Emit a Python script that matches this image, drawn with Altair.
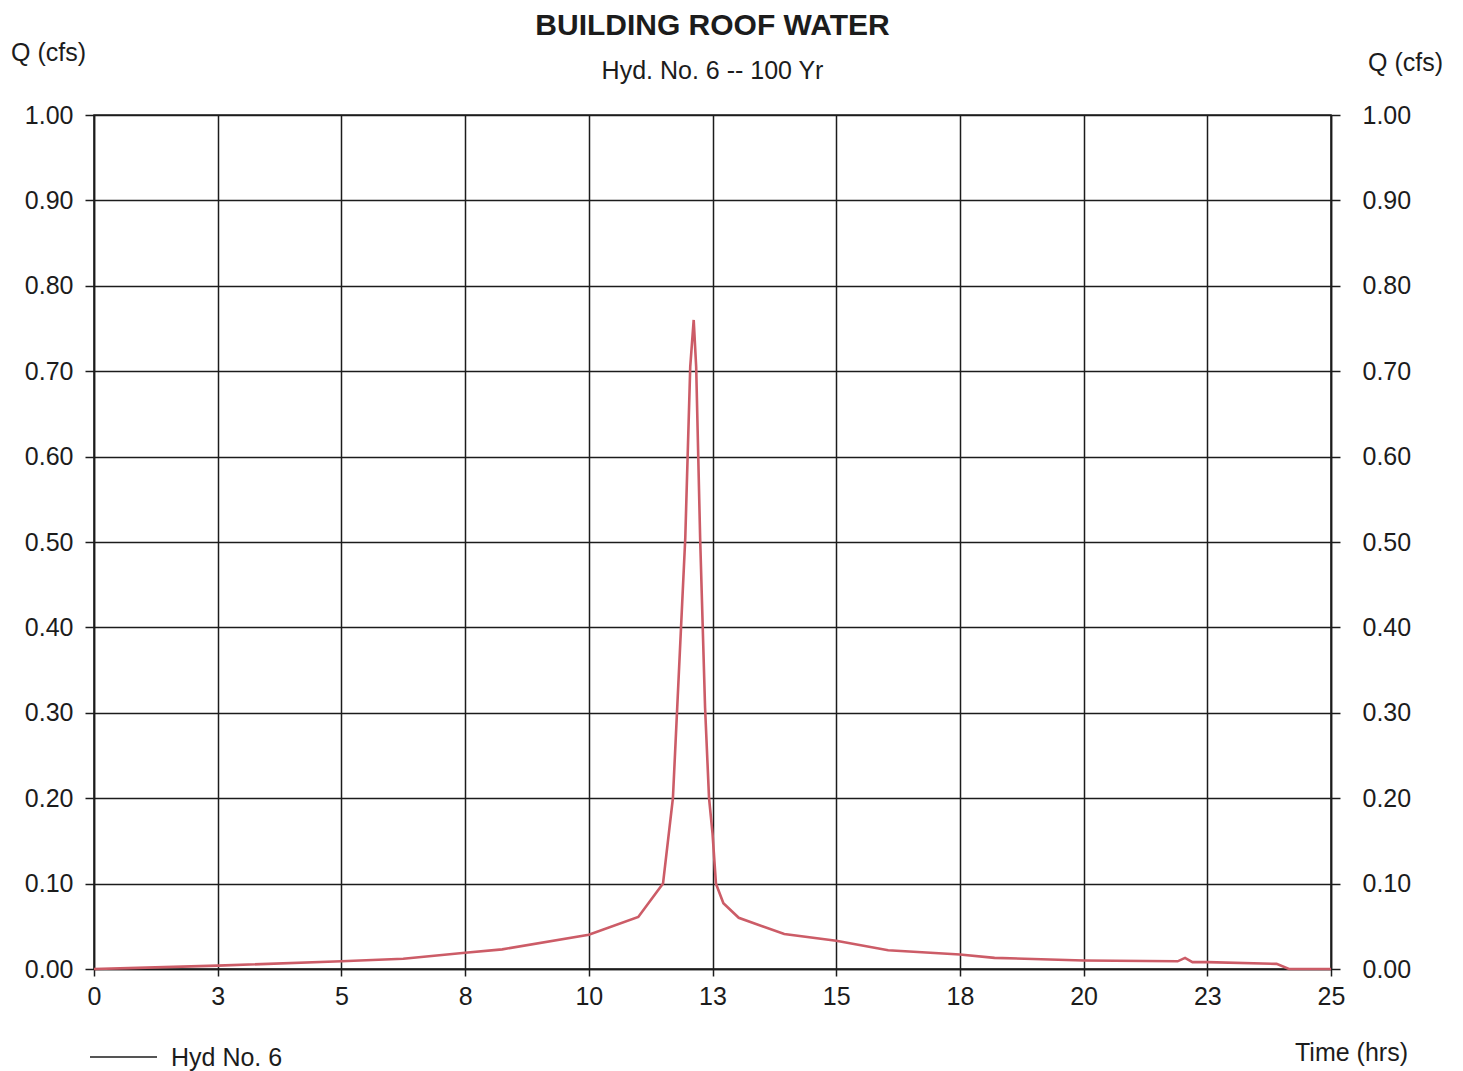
import altair as alt
import pandas as pd

time_hrs = [0.0, 0.7, 2.5, 5.0, 6.25, 7.5, 8.25, 10.0, 11.0, 11.5, 11.7, 11.95,
            12.05, 12.12, 12.17, 12.25, 12.35, 12.43, 12.5, 12.57, 12.72, 13.03,
            13.95, 15.0, 16.05, 17.5, 18.2, 20.0, 21.9, 22.05, 22.2, 22.5, 23.9,
            24.15, 25.0]
flow_cfs = [0.0, 0.001, 0.004, 0.009, 0.012, 0.019, 0.023, 0.040, 0.061, 0.100,
            0.200, 0.505, 0.705, 0.760, 0.705, 0.505, 0.306, 0.200, 0.159, 0.100,
            0.077, 0.060, 0.041, 0.033, 0.022, 0.017, 0.013, 0.010, 0.009, 0.013,
            0.008, 0.008, 0.006, 0.0, 0.0]
series_name = ["Hyd No. 6"]
x_ticks = [0, 2.5, 5, 7.5, 10, 12.5, 15, 17.5, 20, 22.5, 25]
y_ticks = [0.0, 0.1, 0.2, 0.3, 0.4, 0.5, 0.6, 0.7, 0.8, 0.9, 1.0]

df = pd.DataFrame({"t": time_hrs, "q": flow_cfs})
legend_df = pd.DataFrame({"label": series_name})

FONT = "Liberation Sans"
INK = "#1c1c1c"
W, H = 1237, 854

x_enc = alt.X(
    "t:Q",
    scale=alt.Scale(domain=[0, 25], nice=False),
    axis=alt.Axis(
        values=x_ticks, labelExpr="round(datum.value)", title="Time (hrs)",
        titleAngle=0, titleX=1257, titleY=91, titleAlign="center",
        titleBaseline="alphabetic", tickSize=7, labelPadding=8,
        labelFlush=False, grid=True,
    ),
)

base = alt.Chart(df)

line = base.mark_line(color="#cc5c67", strokeWidth=2.6).encode(
    x=x_enc,
    y=alt.Y(
        "q:Q",
        scale=alt.Scale(domain=[0, 1], nice=False),
        axis=alt.Axis(
            values=y_ticks, format=".2f", title="Q (cfs)", orient="left",
            titleAngle=0, titleX=-46, titleY=-55, titleAlign="center",
            titleBaseline="alphabetic", tickSize=9, labelPadding=12, grid=True,
            labelFlush=False,
        ),
    ),
)

right = base.mark_line(opacity=0).encode(
    x=x_enc,
    y=alt.Y(
        "q:Q",
        scale=alt.Scale(domain=[0, 1], nice=False),
        axis=alt.Axis(
            values=y_ticks, format=".2f", title="Q (cfs)", orient="right",
            titleAngle=0, titleX=74, titleY=-45, titleAlign="center",
            titleBaseline="alphabetic", tickSize=9, labelPadding=22, grid=False,
            labelFlush=False,
        ),
    ),
)

leg_rule = alt.Chart(legend_df).mark_rule(color="#555555", strokeWidth=2).encode(
    x=alt.value(-4), x2=alt.value(63), y=alt.value(942)
)
leg_text = alt.Chart(legend_df).mark_text(
    align="left", baseline="middle", font=FONT, fontSize=25, color=INK
).encode(x=alt.value(77), y=alt.value(943), text="label:N")

chart = (
    alt.layer(line, right, leg_rule, leg_text)
    .resolve_axis(y="independent")
    .properties(
        width=W,
        height=H,
        autosize=alt.AutoSizeParams(type="none"),
        padding={"left": 94, "top": 115, "right": 132, "bottom": 102},
        background="white",
        title=alt.TitleParams(
            text="BUILDING ROOF WATER",
            subtitle="Hyd. No. 6 -- 100 Yr",
            anchor="middle",
            frame="group",
            font=FONT,
            fontSize=30,
            fontWeight="bold",
            color=INK,
            subtitleFont=FONT,
            subtitleFontSize=25,
            subtitleColor=INK,
            subtitlePadding=18,
            dy=48,
        ),
    )
    .configure_axis(
        labelFont=FONT, labelFontSize=25, labelColor=INK,
        titleFont=FONT, titleFontSize=25, titleColor=INK, titleFontWeight="normal",
        gridColor=INK, gridWidth=1.5, gridOpacity=1,
        domainColor=INK, domainWidth=1.5, tickColor=INK, tickWidth=1.5,
    )
    .configure_view(stroke=INK, strokeWidth=1.5)
)

chart.save("out.html", embed_options={"renderer": "svg", "actions": False})
